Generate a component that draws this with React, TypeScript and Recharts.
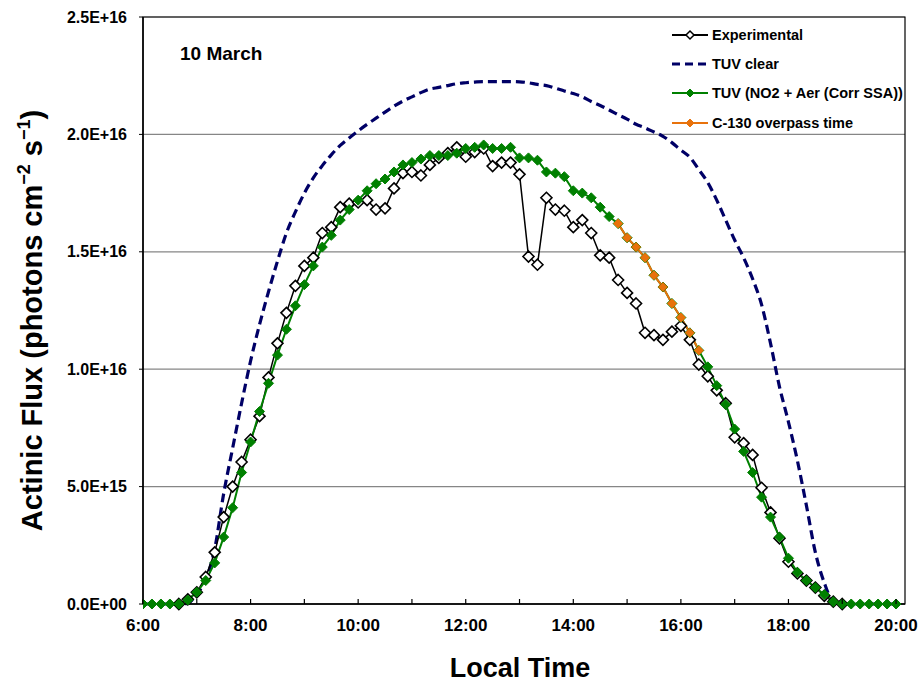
import { LineChart, Line, XAxis, YAxis, CartesianGrid, ReferenceArea } from "recharts";

// 10-minute steps from 6:00 to 20:00, values in units of 1E+15 photons cm-2 s-1
const START_HOUR = 6;
const STEP_MIN = 10;
const X_MAX = 20 + 1 / 6;

const experimental = [
  null, null, null, null, 0, 0.2, 0.5, 1.15, 2.2, 3.7,
  5.0, 6.05, 7.0, 8.0, 9.65, 11.1, 12.4, 13.55, 14.4, 14.75,
  15.8, 16.05, 16.9, 17.05, 17.1, 17.2, 16.8, 16.85, 17.7, 18.35,
  18.4, 18.25, 18.7, 19.0, 19.2, 19.45, 19.05, 19.25, 19.4, 18.65,
  18.8, 18.8, 18.3, 14.8, 14.45, 17.3, 16.8, 16.75, 16.05, 16.35,
  15.8, 14.85, 14.75, 13.8, 13.25, 12.8, 11.55, 11.45, 11.25, 11.6,
  11.85, 11.25, 10.2, 9.7, 9.1, 8.55, 7.1, 6.85, 6.35, 4.95,
  3.9, 2.8, 1.8, 1.3, 1.0, 0.7, 0.35, 0.1, 0, null,
  null, null, null, null, null,
];

const tuvClear = [
  0, 0, 0, 0, 0, 0.03, 0.43, 1.05, 2.35, 4.7,
  6.64, 8.55, 10.35, 11.9, 13.3, 14.6, 15.8, 16.7, 17.5, 18.15,
  18.67, 19.13, 19.53, 19.85, 20.15, 20.43, 20.69, 20.95, 21.2, 21.42,
  21.6, 21.78, 21.93, 22.0, 22.08, 22.16, 22.2, 22.23, 22.25, 22.25,
  22.25, 22.25, 22.24, 22.2, 22.13, 22.08, 21.97, 21.85, 21.74, 21.6,
  21.4, 21.23, 21.04, 20.84, 20.65, 20.43, 20.28, 20.1, 19.92, 19.65,
  19.33, 19.03, 18.5, 17.95, 17.2, 16.35, 15.5, 14.75, 13.85, 12.75,
  11.1, 9.25, 7.75, 6.1, 4.2, 2.2, 0.9, 0.1, 0, 0,
  0, 0, 0, 0, 0,
];

const tuvModel = [
  0, 0, 0, 0, 0, 0.17, 0.5, 1.0, 1.75, 2.85,
  4.1, 5.6, 6.9, 8.2, 9.4, 10.6, 11.7, 12.7, 13.6, 14.4,
  15.2, 15.7, 16.35, 16.8, 17.2, 17.6, 17.9, 18.1, 18.4, 18.7,
  18.8, 18.95, 19.1, 19.1, 19.1, 19.2, 19.4, 19.45, 19.55, 19.4,
  19.4, 19.45, 19.0, 19.0, 18.9, 18.4, 18.35, 18.2, 17.6, 17.5,
  17.3, 16.9, 16.5, 16.2, 15.6, 15.2, 14.75, 14.0, 13.5, 12.8,
  12.2, 11.55, 10.8, 10.1, 9.3, 8.5, 7.45, 6.5, 5.6, 4.55,
  3.7, 2.85, 1.95, 1.35, 1.0, 0.7, 0.4, 0.1, 0, 0,
  0, 0, 0, 0, 0,
];

// C-130 overpass: model points 14:50 .. 16:20
const OVERPASS_FROM = 53;
const OVERPASS_TO = 62;

const yTicks = [0, 5, 10, 15, 20, 25];
const yTickLabels = ["0.0E+00", "5.0E+15", "1.0E+16", "1.5E+16", "2.0E+16", "2.5E+16"];
const xTicks = [6, 7, 8, 9, 10, 11, 12, 13, 14, 15, 16, 17, 18, 19, 20];

const COLORS = {
  exp: "#000000",
  clear: "#000066",
  model: "#008000",
  overpass: "#E8720C",
  grid: "#868686",
};

const FONT = '"Liberation Sans", Arial, sans-serif';

const rows = tuvModel.map((v, i) => ({
  time: START_HOUR + (i * STEP_MIN) / 60,
  experimental: experimental[i],
  clear: tuvClear[i],
  model: v,
  overpass: i >= OVERPASS_FROM && i <= OVERPASS_TO ? v : null,
}));

function diamondPath(cx: number, cy: number, r: number) {
  return `M${cx},${cy - r}L${cx + r},${cy}L${cx},${cy + r}L${cx - r},${cy}Z`;
}

function diamondDot(r: number, fill: string, stroke: string, sw: number) {
  return (props: any) => {
    const { cx, cy, index, value } = props;
    if (cx == null || cy == null || value == null) return <g key={`e-${index}`} />;
    return (
      <path
        key={`d-${index}`}
        d={diamondPath(cx, cy, r)}
        fill={fill}
        stroke={stroke}
        strokeWidth={sw}
      />
    );
  };
}

function XTick({ x, y, payload }: any) {
  const h = payload.value;
  return (
    <g>
      <line x1={x} x2={x} y1={y - 5} y2={y} stroke="#000" strokeWidth={1.2} />
      {h % 2 === 0 && (
        <text x={x} y={y + 27} textAnchor="middle" fontSize={17} fontWeight="bold" fill="#000">
          {`${h}:00`}
        </text>
      )}
    </g>
  );
}

function YTitle({ viewBox }: any) {
  const x = viewBox.x + 42;
  const y = viewBox.y + viewBox.height / 2 + 10;
  return (
    <text
      x={x}
      y={y}
      transform={`rotate(-90, ${x}, ${y})`}
      textAnchor="middle"
      fontSize={29}
      fontWeight="bold"
      fill="#000"
    >
      Actinic Flux (photons cm
      <tspan dy={-12} fontSize={18}>−2</tspan>
      <tspan dy={12}> s</tspan>
      <tspan dy={-12} fontSize={18}>−1</tspan>
      <tspan dy={12}>)</tspan>
    </text>
  );
}

function XTitle({ viewBox }: any) {
  return (
    <text
      x={viewBox.x + viewBox.width / 2 - 4}
      y={viewBox.y + 73}
      textAnchor="middle"
      fontSize={27}
      fontWeight="bold"
      fill="#000"
    >
      Local Time
    </text>
  );
}

function LegendSample({ kind }: { kind: string }) {
  if (kind === "clear") {
    return (
      <svg width={38} height={14}>
        <line x1={1} x2={37} y1={7} y2={7} stroke={COLORS.clear} strokeWidth={3} strokeDasharray="8 5" />
      </svg>
    );
  }
  const color = kind === "exp" ? COLORS.exp : kind === "model" ? COLORS.model : COLORS.overpass;
  return (
    <svg width={38} height={14}>
      <line x1={1} x2={37} y1={7} y2={7} stroke={color} strokeWidth={2} />
      <path
        d={diamondPath(19, 7, 4)}
        fill={kind === "exp" ? "#fff" : color}
        stroke={color}
        strokeWidth={kind === "exp" ? 1.5 : 1}
      />
    </svg>
  );
}

const legendItems = [
  { kind: "exp", label: "Experimental" },
  { kind: "clear", label: "TUV clear" },
  { kind: "model", label: "TUV (NO2 + Aer (Corr SSA))" },
  { kind: "overpass", label: "C-130 overpass time" },
];

export default function App() {
  return (
    <div
      style={{
        position: "absolute",
        left: 0,
        top: 0,
        width: 919,
        height: 684,
        background: "#fff",
        fontFamily: FONT,
      }}
    >
      <LineChart width={919} height={684} data={rows} margin={{ top: 17, right: 14, bottom: 50, left: 0 }}>
        <CartesianGrid vertical={false} stroke={COLORS.grid} strokeWidth={1.2} />
        <ReferenceArea
          x1={START_HOUR}
          x2={X_MAX}
          y1={0}
          y2={25}
          fill="none"
          stroke="#000"
          strokeWidth={1.2}
          ifOverflow="visible"
        />
        <XAxis
          dataKey="time"
          type="number"
          domain={[START_HOUR, X_MAX]}
          ticks={xTicks}
          interval={0}
          tickSize={0}
          tickMargin={0}
          tickLine={false}
          tick={<XTick />}
          axisLine={{ stroke: "#000", strokeWidth: 1.5 }}
          height={30}
          allowDataOverflow
          label={<XTitle />}
        />
        <YAxis
          type="number"
          domain={[0, 25]}
          ticks={yTicks}
          interval={0}
          width={143}
          tickSize={4}
          tickMargin={12}
          tickFormatter={(v: number) => yTickLabels[yTicks.indexOf(v)]}
          tick={{ fill: "#000", fontSize: 16, fontWeight: "bold" }}
          axisLine={{ stroke: "#000", strokeWidth: 1.5 }}
          tickLine={{ stroke: "#000" }}
          label={<YTitle />}
        />
        <Line
          type="monotone"
          dataKey="clear"
          stroke={COLORS.clear}
          strokeWidth={3.2}
          strokeDasharray="9 5"
          dot={false}
          isAnimationActive={false}
        />
        <Line
          type="linear"
          dataKey="experimental"
          stroke={COLORS.exp}
          strokeWidth={1.5}
          dot={diamondDot(5.5, "#fff", COLORS.exp, 1.6)}
          isAnimationActive={false}
        />
        <Line
          type="linear"
          dataKey="model"
          stroke={COLORS.model}
          strokeWidth={2}
          dot={diamondDot(5, COLORS.model, COLORS.model, 1)}
          isAnimationActive={false}
        />
        <Line
          type="linear"
          dataKey="overpass"
          stroke={COLORS.overpass}
          strokeWidth={2}
          dot={diamondDot(4.5, COLORS.overpass, COLORS.overpass, 1)}
          isAnimationActive={false}
        />
      </LineChart>

      <div
        style={{
          position: "absolute",
          left: 180,
          top: 44,
          fontSize: 19,
          lineHeight: "19px",
          fontWeight: "bold",
        }}
      >
        10 March
      </div>

      <div style={{ position: "absolute", left: 671, top: 20 }}>
        {legendItems.map((it) => (
          <div
            key={it.kind}
            style={{ display: "flex", alignItems: "center", height: 29.3, fontSize: 14.5, fontWeight: "bold" }}
          >
            <LegendSample kind={it.kind} />
            <span style={{ marginLeft: 3, whiteSpace: "nowrap" }}>{it.label}</span>
          </div>
        ))}
      </div>
    </div>
  );
}
